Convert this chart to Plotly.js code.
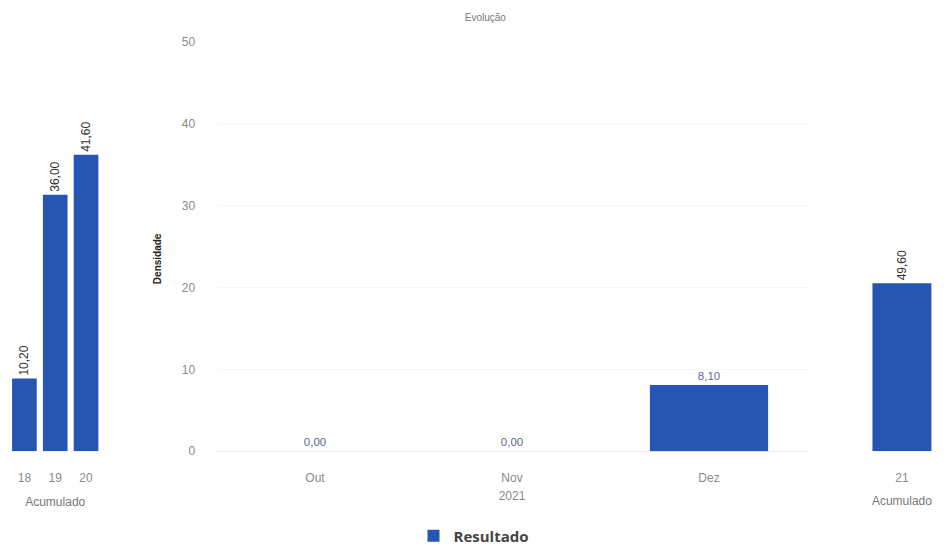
<!DOCTYPE html>
<html>
<head>
<meta charset="utf-8">
<script src="https://cdn.plot.ly/plotly-3.0.1.min.js"></script>
<style>html,body{margin:0;padding:0;background:#fff;}#chart{width:948px;height:553px;}</style>
</head>
<body>
<div id="chart"></div>
<script>
// Data
const accCategories = ["18", "19", "20"];
const accValues = [10.20, 36.00, 41.60];
const monthCategories = ["Out", "Nov", "Dez"];
const monthValues = [0.00, 0.00, 8.10];
const yearCategories = ["21"];
const yearValues = [49.60];
const seriesName = "Resultado";
const chartTitle = "Evolução";
const yTitle = "Densidade";
const yearLabel = "2021";
const accLabel = "Acumulado";

const barColor = "#2655b3";
const font = "Liberation Sans, Arial, sans-serif";

const traces = [
  {
    type: "bar", x: accCategories, y: accValues, xaxis: "x", yaxis: "y", width: 0.8,
    marker: {color: barColor}, name: seriesName, showlegend: false,
    texttemplate: "%{y:.2f}", textposition: "outside", textangle: -90, constraintext: "none",
    textfont: {size: 12, color: "#333", family: font}, cliponaxis: false, hoverinfo: "skip"
  },
  {
    type: "bar", x: monthCategories, y: monthValues, xaxis: "x2", yaxis: "y2", width: 0.6,
    marker: {color: barColor}, name: seriesName, showlegend: true,
    texttemplate: "%{y:.2f}", textposition: "outside", textangle: 0, constraintext: "none",
    textfont: {size: 11.5, color: "#5a6a8a", family: font}, cliponaxis: false, hoverinfo: "skip"
  },
  {
    type: "bar", x: yearCategories, y: yearValues, xaxis: "x3", yaxis: "y3", width: 0.7,
    marker: {color: barColor}, name: seriesName, showlegend: false,
    texttemplate: "%{y:.2f}", textposition: "outside", textangle: -90, constraintext: "none",
    textfont: {size: 12, color: "#333", family: font}, cliponaxis: false, hoverinfo: "skip"
  }
];

const yDom = [0.175, 0.924];
const tickFont = {size: 12, color: "#8a8a8a", family: font};

const layout = {
  width: 948, height: 553,
  margin: {l: 0, r: 0, t: 0, b: 0},
  paper_bgcolor: "#fff", plot_bgcolor: "#fff",
  separators: ",.",
  font: {family: font},
  title: {text: chartTitle, x: 0.512, xanchor: "center", y: 0.968, yanchor: "middle",
          font: {size: 10, color: "#777", family: font}},
  showlegend: true,
  legend: {orientation: "h", x: 0.5, xanchor: "center", y: 0.02, yanchor: "middle",
           itemwidth: 30,
           font: {size: 15, color: "#444", family: "Open Sans, sans-serif", weight: "bold"}},
  annotations: [
    {text: yTitle, xref: "paper", yref: "paper", x: 157 / 948, y: (553 - 262) / 553,
     textangle: -90, showarrow: false, xanchor: "center", yanchor: "middle",
     font: {size: 10, color: "#222", family: font, weight: "bold"}}
  ],
  xaxis: {domain: [0.0095, 0.107], anchor: "y", type: "category", showgrid: false, zeroline: false,
          showline: false, ticks: "outside", ticklen: 15, tickcolor: "rgba(0,0,0,0)", tickfont: tickFont,
          title: {text: accLabel, font: {size: 12, color: "#777", family: font}, standoff: 13}},
  yaxis: {domain: yDom, anchor: "x", range: [0, 57.5], visible: false, fixedrange: true},
  xaxis2: {domain: [0.2284, 0.8518], anchor: "y2", type: "category", showgrid: false, zeroline: false,
           showline: false, ticks: "outside", ticklen: 15, tickcolor: "rgba(0,0,0,0)", tickfont: tickFont,
           title: {text: yearLabel, font: {size: 12, color: "#8a8a8a", family: font}, standoff: 7}},
  yaxis2: {domain: yDom, anchor: "x2", range: [0, 50], dtick: 10, showgrid: true, gridcolor: "#f7f7f7",
           zeroline: true, zerolinecolor: "#e8e8e8", zerolinewidth: 1,
           ticks: "outside", ticklen: 18, tickcolor: "rgba(0,0,0,0)", tickfont: tickFont},
  xaxis3: {domain: [0.907, 0.9958], anchor: "y3", type: "category", showgrid: false, zeroline: false,
           showline: false, ticks: "outside", ticklen: 15, tickcolor: "rgba(0,0,0,0)", tickfont: tickFont,
           title: {text: accLabel, font: {size: 12, color: "#777", family: font}, standoff: 12}},
  yaxis3: {domain: yDom, anchor: "x3", range: [0, 121], visible: false, fixedrange: true}
};

Plotly.newPlot("chart", traces, layout, {staticPlot: true, displayModeBar: false});
</script>
</body>
</html>
